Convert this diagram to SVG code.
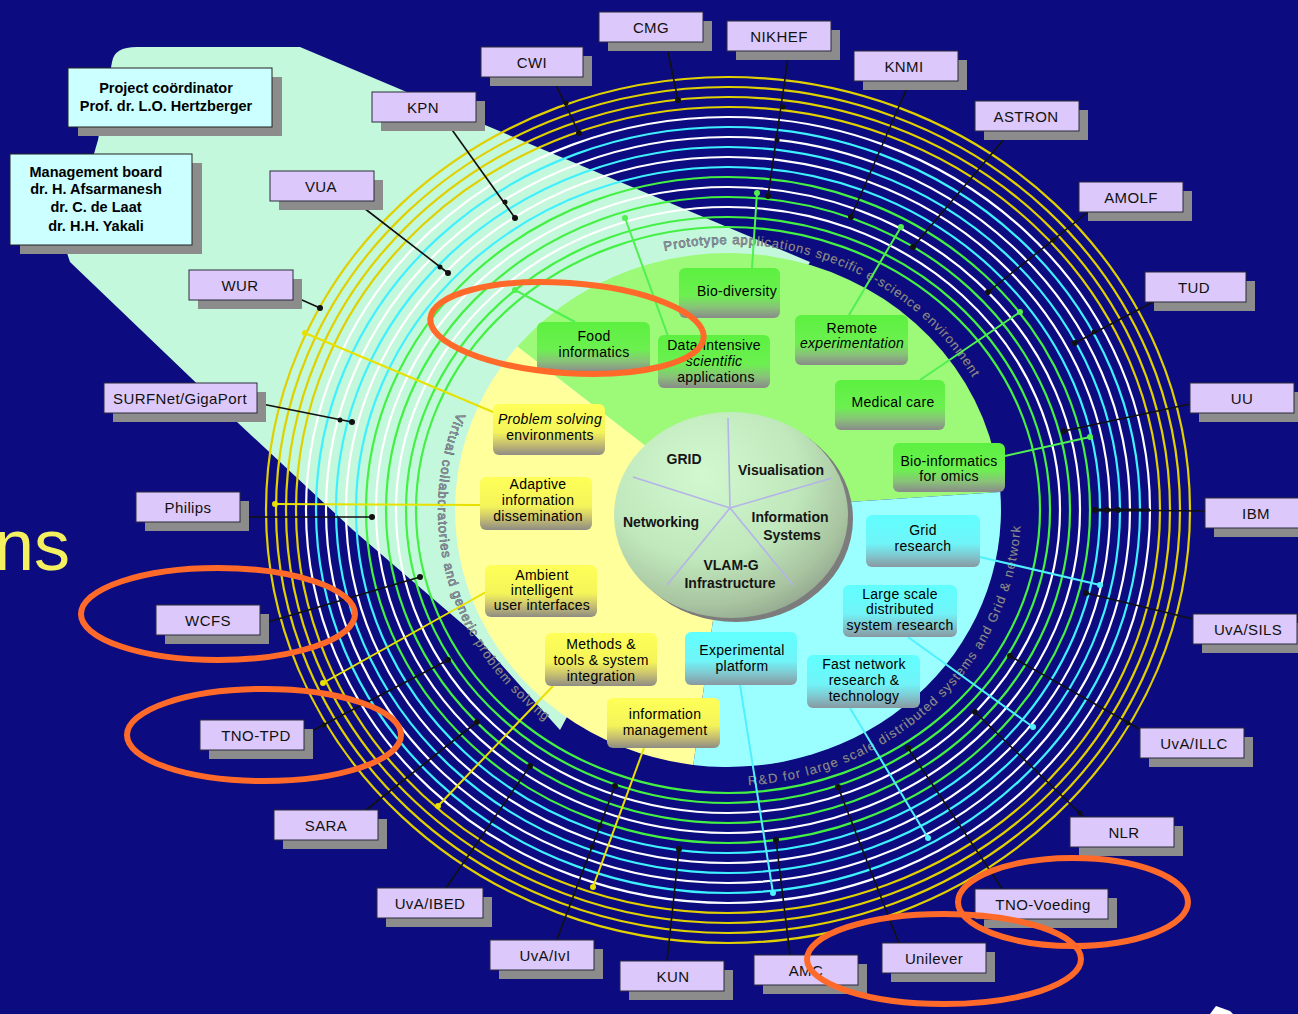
<svg xmlns="http://www.w3.org/2000/svg" width="1298" height="1014" viewBox="0 0 1298 1014">
  <style>
    .org rect.face { fill: #dcc8fa; stroke: #2a2a3a; stroke-width: 1; }
    .org rect.shade, .info rect.shade { fill: #8c8c8c; }
    .org text { font-family: "Liberation Sans", Arial, sans-serif; font-size: 15px; fill: #111; text-anchor: middle; letter-spacing: 0.4px; }
    .info rect.face { fill: #ccffff; stroke: #222; stroke-width: 1; }
    .info text { font-family: "Liberation Sans", Arial, sans-serif; font-size: 14.5px; font-weight: bold; fill: #000; text-anchor: middle; }
    .tile text { font-family: "Liberation Sans", Arial, sans-serif; font-size: 14px; fill: #000; text-anchor: middle; letter-spacing: 0.3px; }
    .tile .it { font-style: italic; }
    .core text { font-family: "Liberation Sans", Arial, sans-serif; font-size: 14px; font-weight: bold; fill: #151515; text-anchor: middle; }
    .arc-label { font-family: "Liberation Sans", Arial, sans-serif; font-size: 13px; fill: #8c8c9c; stroke: #2c2c3c; stroke-width: 0.5; paint-order: stroke; }
    .link { stroke: #111; stroke-width: 1.6; fill: none; }
    .dot { fill: #111; }
    .ring { fill: none; stroke-width: 2.2; }
    .mark { fill: none; stroke: #ff6a2a; stroke-width: 6; }
  </style>
  <defs>
    <linearGradient id="gYellow" x1="0" y1="0" x2="0" y2="1">
      <stop offset="0" stop-color="#ffff58"/>
      <stop offset="0.55" stop-color="#f4f45a"/>
      <stop offset="0.78" stop-color="#c8c070"/>
      <stop offset="1" stop-color="#8e8c84"/>
    </linearGradient>
    <linearGradient id="gGreen" x1="0" y1="0" x2="0" y2="1">
      <stop offset="0" stop-color="#5cf040"/>
      <stop offset="0.55" stop-color="#6cf050"/>
      <stop offset="0.78" stop-color="#88c478"/>
      <stop offset="1" stop-color="#8a8a8a"/>
    </linearGradient>
    <linearGradient id="gCyan" x1="0" y1="0" x2="0" y2="1">
      <stop offset="0" stop-color="#60ffff"/>
      <stop offset="0.55" stop-color="#70f4f8"/>
      <stop offset="0.78" stop-color="#80c8d0"/>
      <stop offset="1" stop-color="#8898a0"/>
    </linearGradient>
    <radialGradient id="gSphere" cx="0.38" cy="0.3" r="0.75">
      <stop offset="0" stop-color="#d2f8d0"/>
      <stop offset="0.55" stop-color="#c0e8bc"/>
      <stop offset="0.85" stop-color="#a8c4a0"/>
      <stop offset="1" stop-color="#94a890"/>
    </radialGradient>
    <path id="pTop" d="M664.6,250.9 A282,266 0 0 1 979.3,389.2"/>
    <path id="pRight" d="M748.4,785.3 A293,276 0 0 0 1020.8,519.6"/>
    <path id="pLeft" d="M457.2,412.5 A290,272 0 0 0 549.5,724.3"/>
  </defs>

  <!-- backdrop -->
  <rect width="1298" height="1014" fill="#0c0c80"/>
  <text x="-6" y="570" font-family="Liberation Sans, Arial, sans-serif" font-size="72" fill="#f4f060">ns</text>
  <path d="M1210,1014 L1216,1006 L1230,1011 L1233,1014 Z" fill="#ffffff"/>

  <!-- pale band of the consortium -->
  <path id="band" d="M112,62 Q114,47 137,47 L300,47 L810,262 L560,730 L473,633 L353,530 L237,422 L70,262 L66,250 L98,140 Z" fill="#c4f8dc"/>

  <!-- concentric rings -->
  <g id="rings" class="ring">
    <ellipse cx="728" cy="510" rx="462" ry="433" stroke="#e0d000"/>
    <ellipse cx="728" cy="510" rx="452" ry="423" stroke="#e0d000"/>
    <ellipse cx="728" cy="510" rx="442" ry="413" stroke="#e0d000"/>
    <ellipse cx="728" cy="510" rx="432" ry="403" stroke="#e0d000"/>
    <ellipse cx="728" cy="510" rx="422" ry="393" stroke="#ffffff"/>
    <ellipse cx="728" cy="510" rx="412" ry="383" stroke="#40f0ff"/>
    <ellipse cx="728" cy="510" rx="402" ry="373" stroke="#ffffff"/>
    <ellipse cx="728" cy="510" rx="392" ry="363" stroke="#40f0ff"/>
    <ellipse cx="728" cy="510" rx="382" ry="353" stroke="#ffffff"/>
    <ellipse cx="728" cy="510" rx="372" ry="343" stroke="#40f0ff"/>
    <ellipse cx="728" cy="510" rx="362" ry="333" stroke="#44f044"/>
    <ellipse cx="728" cy="510" rx="352" ry="323" stroke="#ffffff"/>
    <ellipse cx="728" cy="510" rx="342" ry="313" stroke="#44f044"/>
    <ellipse cx="728" cy="510" rx="332" ry="303" stroke="#ffffff"/>
    <ellipse cx="728" cy="510" rx="322" ry="293" stroke="#44f044"/>
    <ellipse cx="728" cy="510" rx="312" ry="283" stroke="#44f044"/>
  </g>

  <!-- inner disc: three domains -->
  <g id="domains">
    <path d="M728,510 L517.4,346.5 A273,257 0 0 1 1000.3,492.1 Z" fill="#9cfa78"/>
    <path d="M728,510 L1000.3,492.1 A273,257 0 0 1 693.3,764.9 Z" fill="#9cffff"/>
    <path d="M728,510 L693.3,764.9 A273,257 0 0 1 517.4,346.5 Z" fill="#ffff9c"/>
  </g>

  <!-- lettering along the rings -->
  <g id="arc-labels" class="arc-label">
    <text><textPath href="#pTop" textLength="355" lengthAdjust="spacing">Prototype applications specific e-science environment</textPath></text>
    <text><textPath href="#pRight" textLength="410" lengthAdjust="spacing">R&amp;D for large scale distributed systems and Grid &amp; network</textPath></text>
    <text><textPath href="#pLeft" textLength="345" lengthAdjust="spacing">Virtual collaboratories and generic problem solving</textPath></text>
  </g>

  <!-- connectors -->
  <g id="connectors">
    <g stroke="#50f050" stroke-width="2" fill="#50f050">
      <line x1="575" y1="322" x2="515" y2="290"/><circle cx="515" cy="290" r="2"/>
      <line x1="668" y1="336" x2="625" y2="218"/><circle cx="625" cy="218" r="2"/>
      <line x1="752" y1="268" x2="757" y2="193"/><circle cx="757" cy="193" r="2"/>
      <line x1="849" y1="315" x2="901" y2="227"/><circle cx="901" cy="227" r="2"/>
      <line x1="920" y1="380" x2="1020" y2="312"/><circle cx="1020" cy="312" r="2"/>
      <line x1="1005" y1="456" x2="1090" y2="437"/><circle cx="1090" cy="437" r="2"/>
    </g>
    <g stroke="#e8e000" stroke-width="2" fill="#e8e000">
      <line x1="493" y1="412" x2="305" y2="333"/><circle cx="305" cy="333" r="2"/>
      <line x1="480" y1="505" x2="275" y2="504"/><circle cx="275" cy="504" r="2"/>
      <line x1="486" y1="592" x2="323" y2="683"/><circle cx="323" cy="683" r="2"/>
      <line x1="553" y1="686" x2="438" y2="806"/><circle cx="438" cy="806" r="2"/>
      <line x1="644" y1="748" x2="593" y2="887"/><circle cx="593" cy="887" r="2"/>
    </g>
    <g stroke="#50f0ff" stroke-width="2" fill="#50f0ff">
      <line x1="980" y1="557" x2="1100" y2="585"/><circle cx="1100" cy="585" r="2"/>
      <line x1="908" y1="637" x2="1033" y2="727"/><circle cx="1033" cy="727" r="2"/>
      <line x1="740" y1="685" x2="773" y2="893"/><circle cx="773" cy="893" r="2"/>
      <line x1="850" y1="708" x2="928" y2="838"/><circle cx="928" cy="838" r="2"/>
    </g>
    <g class="link">
      <line x1="668" y1="52" x2="678" y2="100"/>
      <line x1="788" y1="58" x2="768" y2="196"/>
      <line x1="555" y1="83" x2="579" y2="133"/>
      <line x1="907" y1="88" x2="851" y2="217"/>
      <line x1="450" y1="127" x2="515" y2="218"/>
      <line x1="1005" y1="138" x2="913" y2="247"/>
      <line x1="1088" y1="212" x2="988" y2="292"/>
      <line x1="1153" y1="302" x2="1075" y2="343"/>
      <line x1="1190" y1="404" x2="1064" y2="431"/>
      <line x1="1205" y1="511" x2="1095" y2="510"/>
      <line x1="1193" y1="619" x2="1086" y2="593"/>
      <line x1="1150" y1="735" x2="1010" y2="656"/>
      <line x1="1090" y1="823" x2="975" y2="712"/>
      <line x1="1005" y1="893" x2="908" y2="748"/>
      <line x1="900" y1="946" x2="838" y2="787"/>
      <line x1="790" y1="955" x2="776" y2="840"/>
      <line x1="667" y1="961" x2="679" y2="849"/>
      <line x1="556" y1="942" x2="615" y2="786"/>
      <line x1="446" y1="888" x2="530" y2="766"/>
      <line x1="366" y1="810" x2="477" y2="722"/>
      <line x1="306" y1="734" x2="448" y2="660"/>
      <line x1="268" y1="622" x2="420" y2="577"/>
      <line x1="240" y1="517" x2="372" y2="517"/>
      <line x1="257" y1="403" x2="352" y2="422"/>
      <line x1="293" y1="296" x2="320" y2="308"/>
      <line x1="364" y1="208" x2="448" y2="273"/>
      <line x1="1095" y1="510" x2="1150" y2="510" stroke-width="3"/>
    </g>
    <g class="dot">
      <circle cx="678" cy="100" r="3"/>
      <circle cx="783" cy="107" r="2.5"/><circle cx="777" cy="140" r="2.5"/><circle cx="768" cy="196" r="3"/>
      <circle cx="566" cy="103" r="2.5"/><circle cx="579" cy="133" r="3"/>
      <circle cx="851" cy="217" r="3"/>
      <circle cx="505" cy="202" r="2.5"/><circle cx="515" cy="218" r="3"/>
      <circle cx="913" cy="247" r="3"/>
      <circle cx="1053" cy="240" r="2.5"/><circle cx="988" cy="292" r="3"/>
      <circle cx="1094" cy="332" r="2.5"/><circle cx="1075" cy="343" r="3"/>
      <circle cx="1064" cy="431" r="3"/>
      <circle cx="1095" cy="510" r="3"/><circle cx="1107" cy="510" r="3"/><circle cx="1118" cy="510" r="3"/>
      <circle cx="1086" cy="593" r="3"/>
      <circle cx="1010" cy="656" r="3"/><circle cx="1128" cy="723" r="2.5"/>
      <circle cx="975" cy="712" r="3"/><circle cx="1080" cy="813" r="2.5"/>
      <circle cx="908" cy="748" r="3"/>
      <circle cx="838" cy="787" r="3"/>
      <circle cx="776" cy="840" r="3"/>
      <circle cx="679" cy="849" r="3"/>
      <circle cx="615" cy="786" r="3"/><circle cx="600" cy="826" r="2.5"/><circle cx="592" cy="847" r="2.5"/>
      <circle cx="530" cy="766" r="3"/>
      <circle cx="477" cy="722" r="3"/>
      <circle cx="448" cy="660" r="3"/><circle cx="324" cy="725" r="2.5"/>
      <circle cx="420" cy="577" r="3"/>
      <circle cx="372" cy="517" r="3"/>
      <circle cx="340" cy="420" r="2.5"/><circle cx="352" cy="422" r="3"/>
      <circle cx="320" cy="308" r="3"/>
      <circle cx="440" cy="267" r="2.5"/><circle cx="448" cy="273" r="3"/>
    </g>
  </g>

  <!-- central sphere -->
  <g id="core" class="core">
    <ellipse cx="736" cy="519" rx="117" ry="103" fill="#7c7c7c"/>
    <ellipse cx="731" cy="515" rx="117" ry="103" fill="url(#gSphere)"/>
    <g stroke="#b4b4e8" stroke-width="1.6">
      <line x1="730" y1="508" x2="728" y2="418"/>
      <line x1="730" y1="508" x2="832" y2="478"/>
      <line x1="730" y1="508" x2="793" y2="585"/>
      <line x1="730" y1="508" x2="667" y2="585"/>
      <line x1="730" y1="508" x2="633" y2="477"/>
    </g>
    <text x="684" y="464">GRID</text>
    <text x="781" y="475">Visualisation</text>
    <text x="661" y="527">Networking</text>
    <text x="790" y="522">Information</text>
    <text x="792" y="540">Systems</text>
    <text x="731" y="570">VLAM-G</text>
    <text x="730" y="588">Infrastructure</text>
  </g>

  <!-- application tiles -->
  <g id="tile-food" class="tile"><rect x="537" y="322" width="113" height="50" rx="6" fill="url(#gGreen)"/><text x="594" y="341">Food</text><text x="594" y="357">informatics</text></g>
  <g id="tile-biodiv" class="tile"><rect x="679" y="268" width="101" height="50" rx="6" fill="url(#gGreen)"/><text x="737" y="296">Bio-diversity</text></g>
  <g id="tile-data" class="tile"><rect x="658" y="335" width="112" height="53" rx="6" fill="url(#gGreen)"/><text x="714" y="350">Data-intensive</text><text x="714" y="366" class="it">scientific</text><text x="716" y="382">applications</text></g>
  <g id="tile-remote" class="tile"><rect x="795" y="315" width="113" height="50" rx="6" fill="url(#gGreen)"/><text x="852" y="333">Remote</text><text x="852" y="348" class="it">experimentation</text></g>
  <g id="tile-medical" class="tile"><rect x="835" y="380" width="110" height="50" rx="6" fill="url(#gGreen)"/><text x="893" y="407">Medical care</text></g>
  <g id="tile-bioinf" class="tile"><rect x="893" y="443" width="112" height="49" rx="6" fill="url(#gGreen)"/><text x="949" y="466">Bio-informatics</text><text x="949" y="481">for omics</text></g>

  <g id="tile-pse" class="tile"><rect x="493" y="404" width="112" height="51" rx="6" fill="url(#gYellow)"/><text x="550" y="424" class="it">Problem solving</text><text x="550" y="440">environments</text></g>
  <g id="tile-adaptive" class="tile"><rect x="480" y="477" width="112" height="53" rx="6" fill="url(#gYellow)"/><text x="538" y="489">Adaptive</text><text x="538" y="505">information</text><text x="538" y="521">dissemination</text></g>
  <g id="tile-ambient" class="tile"><rect x="485" y="565" width="112" height="52" rx="6" fill="url(#gYellow)"/><text x="542" y="580">Ambient</text><text x="542" y="595">intelligent</text><text x="542" y="610">user interfaces</text></g>
  <g id="tile-methods" class="tile"><rect x="545" y="633" width="112" height="53" rx="6" fill="url(#gYellow)"/><text x="601" y="649">Methods &amp;</text><text x="601" y="665">tools &amp; system</text><text x="601" y="681">integration</text></g>
  <g id="tile-infomgmt" class="tile"><rect x="607" y="698" width="113" height="50" rx="6" fill="url(#gYellow)"/><text x="665" y="719">information</text><text x="665" y="735">management</text></g>

  <g id="tile-grid" class="tile"><rect x="866" y="515" width="114" height="52" rx="6" fill="url(#gCyan)"/><text x="923" y="535">Grid</text><text x="923" y="551">research</text></g>
  <g id="tile-large" class="tile"><rect x="843" y="585" width="114" height="52" rx="6" fill="url(#gCyan)"/><text x="900" y="599">Large scale</text><text x="900" y="614">distributed</text><text x="900" y="630">system research</text></g>
  <g id="tile-exp" class="tile"><rect x="685" y="632" width="112" height="53" rx="6" fill="url(#gCyan)"/><text x="742" y="655">Experimental</text><text x="742" y="671">platform</text></g>
  <g id="tile-fast" class="tile"><rect x="807" y="655" width="113" height="53" rx="6" fill="url(#gCyan)"/><text x="864" y="669">Fast network</text><text x="864" y="685">research &amp;</text><text x="864" y="701">technology</text></g>

  <!-- leadership -->
  <g id="coordinator" class="info"><rect class="shade" x="78" y="77" width="204" height="59"/><rect class="face" x="68" y="68" width="204" height="59"/><text x="166" y="93">Project coördinator</text><text x="166" y="111">Prof. dr. L.O. Hertzberger</text></g>
  <g id="board" class="info"><rect class="shade" x="20" y="163" width="182" height="91"/><rect class="face" x="10" y="154" width="182" height="91"/><text x="96" y="177">Management board</text><text x="96" y="194">dr.  H. Afsarmanesh</text><text x="96" y="212">dr. C. de Laat</text><text x="96" y="231">dr. H.H. Yakali</text></g>

  <!-- partner organisations -->
  <g id="org-cmg" class="org"><rect class="shade" x="608" y="21" width="104" height="30"/><rect class="face" x="599" y="12" width="104" height="30"/><text x="651" y="33">CMG</text></g>
  <g id="org-nikhef" class="org"><rect class="shade" x="736" y="30" width="104" height="30"/><rect class="face" x="727" y="21" width="104" height="30"/><text x="779" y="42">NIKHEF</text></g>
  <g id="org-cwi" class="org"><rect class="shade" x="490" y="56" width="102" height="30"/><rect class="face" x="481" y="47" width="102" height="30"/><text x="532" y="68">CWI</text></g>
  <g id="org-knmi" class="org"><rect class="shade" x="863" y="60" width="104" height="30"/><rect class="face" x="854" y="51" width="104" height="30"/><text x="904" y="72">KNMI</text></g>
  <g id="org-kpn" class="org"><rect class="shade" x="381" y="101" width="104" height="30"/><rect class="face" x="372" y="92" width="104" height="30"/><text x="423" y="113">KPN</text></g>
  <g id="org-astron" class="org"><rect class="shade" x="984" y="110" width="104" height="30"/><rect class="face" x="975" y="101" width="104" height="30"/><text x="1026" y="122">ASTRON</text></g>
  <g id="org-amolf" class="org"><rect class="shade" x="1088" y="191" width="104" height="30"/><rect class="face" x="1079" y="182" width="104" height="30"/><text x="1131" y="203">AMOLF</text></g>
  <g id="org-tud" class="org"><rect class="shade" x="1154" y="281" width="101" height="30"/><rect class="face" x="1145" y="272" width="101" height="30"/><text x="1194" y="293">TUD</text></g>
  <g id="org-uu" class="org"><rect class="shade" x="1199" y="392" width="104" height="30"/><rect class="face" x="1190" y="383" width="104" height="30"/><text x="1242" y="404">UU</text></g>
  <g id="org-ibm" class="org"><rect class="shade" x="1214" y="507" width="104" height="30"/><rect class="face" x="1205" y="498" width="104" height="30"/><text x="1256" y="519">IBM</text></g>
  <g id="org-uvasils" class="org"><rect class="shade" x="1202" y="623" width="104" height="30"/><rect class="face" x="1193" y="614" width="104" height="30"/><text x="1248" y="635">UvA/SILS</text></g>
  <g id="org-uvaillc" class="org"><rect class="shade" x="1149" y="737" width="104" height="30"/><rect class="face" x="1140" y="728" width="104" height="30"/><text x="1194" y="749">UvA/ILLC</text></g>
  <g id="org-nlr" class="org"><rect class="shade" x="1079" y="826" width="104" height="30"/><rect class="face" x="1070" y="817" width="104" height="30"/><text x="1124" y="838">NLR</text></g>
  <g id="org-tnovoeding" class="org"><rect class="shade" x="984" y="898" width="133" height="30"/><rect class="face" x="975" y="889" width="133" height="30"/><text x="1043" y="910">TNO-Voeding</text></g>
  <g id="org-unilever" class="org"><rect class="shade" x="891" y="952" width="104" height="30"/><rect class="face" x="882" y="943" width="104" height="30"/><text x="934" y="964">Unilever</text></g>
  <g id="org-amc" class="org"><rect class="shade" x="763" y="964" width="104" height="30"/><rect class="face" x="754" y="955" width="104" height="30"/><text x="806" y="976">AMC</text></g>
  <g id="org-kun" class="org"><rect class="shade" x="629" y="970" width="104" height="30"/><rect class="face" x="620" y="961" width="104" height="30"/><text x="673" y="982">KUN</text></g>
  <g id="org-uvaivi" class="org"><rect class="shade" x="499" y="949" width="104" height="30"/><rect class="face" x="490" y="940" width="104" height="30"/><text x="545" y="961">UvA/IvI</text></g>
  <g id="org-uvaibed" class="org"><rect class="shade" x="386" y="897" width="106" height="30"/><rect class="face" x="377" y="888" width="106" height="30"/><text x="430" y="909">UvA/IBED</text></g>
  <g id="org-sara" class="org"><rect class="shade" x="283" y="819" width="104" height="30"/><rect class="face" x="274" y="810" width="104" height="30"/><text x="326" y="831">SARA</text></g>
  <g id="org-tnotpd" class="org"><rect class="shade" x="209" y="729" width="104" height="30"/><rect class="face" x="200" y="720" width="104" height="30"/><text x="256" y="741">TNO-TPD</text></g>
  <g id="org-wcfs" class="org"><rect class="shade" x="165" y="614" width="104" height="30"/><rect class="face" x="156" y="605" width="104" height="30"/><text x="208" y="626">WCFS</text></g>
  <g id="org-philips" class="org"><rect class="shade" x="145" y="501" width="104" height="30"/><rect class="face" x="136" y="492" width="104" height="30"/><text x="188" y="513">Philips</text></g>
  <g id="org-surfnet" class="org"><rect class="shade" x="113" y="392" width="153" height="30"/><rect class="face" x="104" y="383" width="153" height="30"/><text x="180" y="404">SURFNet/GigaPort</text></g>
  <g id="org-wur" class="org"><rect class="shade" x="198" y="279" width="104" height="30"/><rect class="face" x="189" y="270" width="104" height="30"/><text x="240" y="291">WUR</text></g>
  <g id="org-vua" class="org"><rect class="shade" x="279" y="180" width="104" height="30"/><rect class="face" x="270" y="171" width="104" height="30"/><text x="321" y="192">VUA</text></g>

  <!-- highlight rings -->
  <g id="highlights" class="mark">
    <ellipse cx="567" cy="328" rx="137" ry="45" transform="rotate(4 567 328)"/>
    <ellipse cx="218" cy="614" rx="137" ry="46"/>
    <ellipse cx="264" cy="735" rx="137" ry="46"/>
    <ellipse cx="1073" cy="902" rx="115" ry="44"/>
    <ellipse cx="944" cy="959" rx="137" ry="45"/>
  </g>
</svg>
